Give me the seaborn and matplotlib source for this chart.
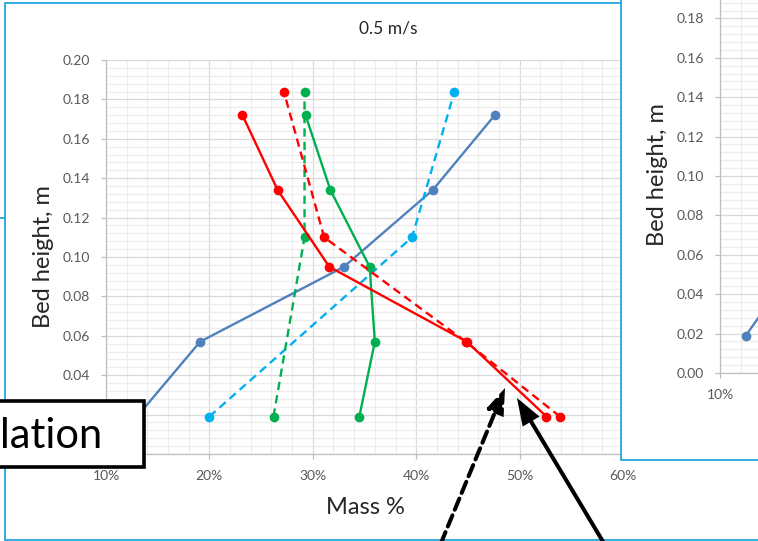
import matplotlib
matplotlib.use("Agg")
import matplotlib.pyplot as plt
import seaborn as sns
from matplotlib.ticker import PercentFormatter, MultipleLocator, FormatStrFormatter
from matplotlib.patches import Rectangle, FancyArrowPatch
from matplotlib.lines import Line2D

sns.set_style("white")
plt.rcParams["font.family"] = ["Lato", "DejaVu Sans"]

W, H = 758, 541

# ---- data: bed height (m) vs. mass fraction ----
heights_solid = [0.019, 0.057, 0.095, 0.134, 0.172]
heights_dashed = [0.019, 0.110, 0.184]
heights_red_dashed = [0.019, 0.057, 0.110, 0.184]

blue_solid = [0.130, 0.191, 0.330, 0.416, 0.476]
cyan_dashed = [0.200, 0.396, 0.437]
green_solid = [0.345, 0.360, 0.355, 0.317, 0.293]
green_dashed = [0.262, 0.292, 0.292]
red_solid = [0.526, 0.449, 0.316, 0.266, 0.232]
red_dashed = [0.539, 0.448, 0.311, 0.272]

# neighbouring panel (higher velocity), lowest sample points
side_heights = [0.019, 0.057]
side_blue = [0.125, 0.176]

y_ticks = [0.00, 0.02, 0.04, 0.06, 0.08, 0.10, 0.12, 0.14, 0.16, 0.18, 0.20]
x_ticks = [0.1, 0.2, 0.3, 0.4, 0.5, 0.6]

BLUE = "#4F81BD"
CYAN = "#00B0F0"
GREEN = "#00B050"
RED = "#FF0000"
FRAME = "#22A7E0"
AXIS = "#BFBFBF"
TICKTXT = "#595959"

PX_PER_UNIT = 1034.0  # horizontal pixels per unit of mass fraction


def fx(x):
    return x / W


def fy(y):
    return 1 - y / H


def style_axes(ax, xmax=0.6):
    ax.set_xlim(0.1, xmax)
    ax.set_ylim(0.0, 0.20)
    ax.set_xticks([t for t in x_ticks if t <= xmax + 1e-9])
    ax.set_yticks(y_ticks)
    ax.xaxis.set_minor_locator(MultipleLocator(0.02))
    ax.yaxis.set_minor_locator(MultipleLocator(0.004))
    ax.xaxis.set_major_formatter(PercentFormatter(1, decimals=0))
    ax.yaxis.set_major_formatter(FormatStrFormatter("%.2f"))
    ax.grid(which="major", color="#D9D9D9", lw=0.9)
    ax.grid(which="minor", color="#EDEDED", lw=0.9)
    ax.set_axisbelow(True)
    for s in ("top", "right"):
        ax.spines[s].set_visible(False)
    for s in ("left", "bottom"):
        ax.spines[s].set_color(AXIS)
        ax.spines[s].set_linewidth(0.9)
    ax.tick_params(which="major", direction="out", length=3.5, width=0.9,
                   color=AXIS, labelsize=10, labelcolor=TICKTXT, pad=8,
                   left=True, bottom=True)
    ax.tick_params(which="minor", length=0)
    ax.set_xlabel("")
    ax.set_ylabel("")


fig = plt.figure(figsize=(W / 100, H / 100), dpi=100)
fig.patch.set_facecolor("white")

# outer frame of the main chart
fig.add_artist(Rectangle((fx(5), fy(540)), (900 - 5) / W, (540 - 3) / H,
                         transform=fig.transFigure, facecolor="white",
                         edgecolor=FRAME, lw=1.3, zorder=0.5))
fig.add_artist(Line2D([fx(0), fx(5)], [fy(218), fy(218)],
                      transform=fig.transFigure, color=FRAME, lw=1.3, zorder=0.6))

# main panel
ax = fig.add_axes([fx(106), fy(454), (623 - 106) / W, (454 - 60) / H])
ax.set_zorder(1)
ax.patch.set_facecolor("white")

lw = 1.7
ms = 7
dash = (0, (3.5, 2.2))
series = [
    (blue_solid, heights_solid, BLUE, "-"),
    (cyan_dashed, heights_dashed, CYAN, dash),
    (green_dashed, heights_dashed, GREEN, dash),
    (green_solid, heights_solid, GREEN, "-"),
    (red_dashed, heights_red_dashed, RED, dash),
    (red_solid, heights_solid, RED, "-"),
]
for xs, ys, c, ls in series:
    sns.lineplot(x=xs, y=ys, ax=ax, sort=False, estimator=None, color=c,
                 linestyle=ls, lw=lw, marker="o", markersize=ms,
                 markeredgewidth=0, legend=False)
style_axes(ax)
# the two lowest height labels sit beneath the caption box
for lbl, val in zip(ax.get_yticklabels(), y_ticks):
    if val < 0.03:
        lbl.set_visible(False)

fig.text(fx(388), fy(28), "0.5 m/s", ha="center", va="center",
         fontsize=12.5, color="#262626")
fig.text(fx(44), fy(257), "Bed height, m", ha="center", va="center",
         rotation=90, fontsize=17, color="#262626")
fig.text(fx(365), fy(507), "Mass %", ha="center", va="center",
         fontsize=17, color="#262626")

# neighbouring panel on the right, partly visible
fig.add_artist(Rectangle((fx(621), fy(460)), (900 - 621) / W, (460 + 20) / H,
                         transform=fig.transFigure, facecolor="white",
                         edgecolor=FRAME, lw=1.3, zorder=2))
r_left, r_right = 720, 758
rax = fig.add_axes([fx(r_left), fy(373), (r_right - r_left) / W, 394 / H])
rax.set_zorder(3)
rax.patch.set_facecolor("white")
sns.lineplot(x=side_blue, y=side_heights, ax=rax, sort=False, estimator=None,
             color=BLUE, lw=lw, marker="o", markersize=ms, markeredgewidth=0,
             legend=False)
style_axes(rax, xmax=0.1 + (r_right - r_left) / PX_PER_UNIT)
# the top label of this panel lies above the visible area
for lbl, val in zip(rax.get_yticklabels(), y_ticks):
    if val > 0.19:
        lbl.set_visible(False)
fig.text(fx(657), fy(175), "Bed height, m", ha="center", va="center",
         rotation=90, fontsize=17, color="#262626", zorder=4)

# caption box overlapping the lower left corner
fig.add_artist(Rectangle((fx(-10), fy(467)), (144 + 10) / W, (467 - 401) / H,
                         transform=fig.transFigure, facecolor="white",
                         edgecolor="black", lw=2.6, zorder=5))
fig.text(fx(0), fy(448), "lation", ha="left", va="baseline", fontsize=30,
         color="black", zorder=6)

# pointer arrows
for (x0, y0), (x1, y1), ls in [((434, 560), (505, 388), (0, (3, 1.5))),
                               ((614, 560), (517, 398), "-")]:
    fig.add_artist(FancyArrowPatch((fx(x0), fy(y0)), (fx(x1), fy(y1)),
                                   transform=fig.transFigure,
                                   arrowstyle="-|>,head_length=14,head_width=5",
                                   mutation_scale=1, lw=2.9, linestyle=ls,
                                   color="black", shrinkA=0, shrinkB=0,
                                   joinstyle="miter", zorder=7))

fig.savefig("out.png", dpi=100)
